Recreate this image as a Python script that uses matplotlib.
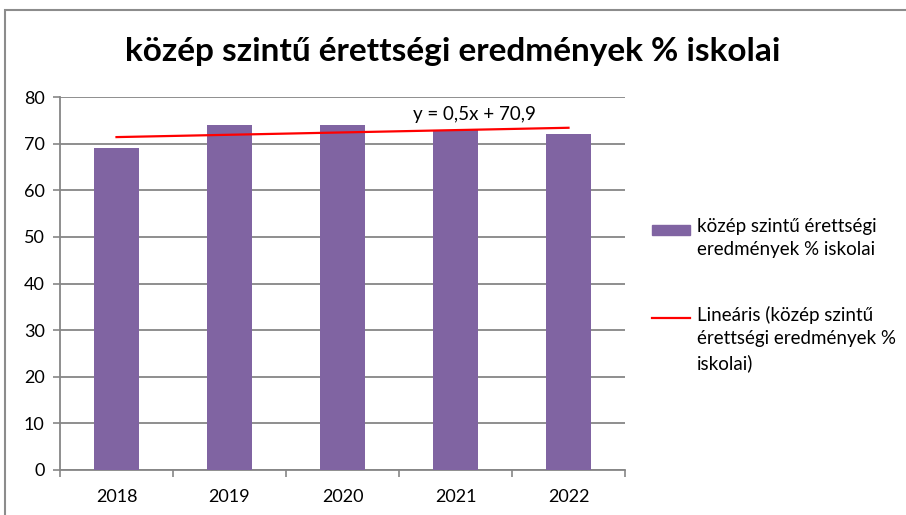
import numpy as np
import matplotlib.pyplot as plt
from matplotlib.patches import Rectangle
from matplotlib.lines import Line2D

years = ['2018', '2019', '2020', '2021', '2022']
values = [69, 74, 74, 73, 72]
title = 'közép szintű érettségi eredmények % iskolai'
bar_label = 'közép szintű érettségi\neredmények % iskolai'
trend_label = 'Lineáris (közép szintű\nérettségi eredmények %\niskolai)'

plt.rcParams['font.family'] = ['Lato', 'DejaVu Sans']

bar_color = '#8064a2'
trend_color = '#ff0000'

fig = plt.figure(figsize=(9.06, 5.15), dpi=100)
fig.patch.set_facecolor('white')

# chart frame, cut off at right and bottom
fig.patches.append(Rectangle((5 / 906, -0.2), 1.2, (505 / 515) + 0.2,
                             transform=fig.transFigure, fill=False,
                             edgecolor='#8c8c8c', linewidth=1.5))

ax = fig.add_axes([60 / 906, 45 / 515, 565 / 906, 373 / 515])
x = np.arange(1, len(years) + 1)
ax.bar(x, values, width=0.4, color=bar_color, zorder=3)

# linear trend fitted on the category index
slope, intercept = np.polyfit(x, values, 1)
ax.plot(x, slope * x + intercept, color=trend_color, linewidth=1.6, zorder=4)
eq = ('y = %.1fx + %.1f' % (slope, intercept)).replace('.', ',')
ax.text(4.17, 74.4, eq, ha='center', va='bottom', fontsize=13.5, zorder=5)

ax.set_xlim(0.5, len(years) + 0.5)
ax.set_ylim(0, 80)
ax.set_yticks(np.arange(0, 81, 10))
ax.set_xticks(x)
ax.set_xticklabels(years)
ax.set_xticks(np.arange(0.5, len(years) + 1, 1), minor=True)
ax.tick_params(axis='x', which='major', length=0, pad=14, labelsize=13)
ax.tick_params(axis='x', which='minor', length=5, color='#868686', width=1.2)
ax.tick_params(axis='y', length=5, color='#868686', width=1.2, labelsize=13, pad=6)
ax.grid(axis='y', color='#868686', linewidth=1.3, zorder=0)
for side in ['top', 'right']:
    ax.spines[side].set_visible(False)
for side in ['left', 'bottom']:
    ax.spines[side].set_color('#868686')
    ax.spines[side].set_linewidth(1.3)

fig.text(0.5, 0.90, title, ha='center', va='center', fontsize=24,
         fontweight='bold')

# legend, handles aligned with the first line of each entry
W, H = 906, 515
fig.add_artist(Rectangle((652 / W, 1 - 235 / H), 38 / W, 10 / H,
                         transform=fig.transFigure, color=bar_color))
fig.text(697 / W, 1 - 218 / H, bar_label, ha='left', va='top',
         fontsize=13.5, linespacing=1.45)
fig.add_artist(Line2D([652 / W, 690 / W], [1 - 318 / H, 1 - 318 / H],
                      transform=fig.transFigure, color=trend_color,
                      linewidth=1.6))
fig.text(697 / W, 1 - 306 / H, trend_label, ha='left', va='top',
         fontsize=13.5, linespacing=1.45)

fig.savefig('out.png', dpi=100)
